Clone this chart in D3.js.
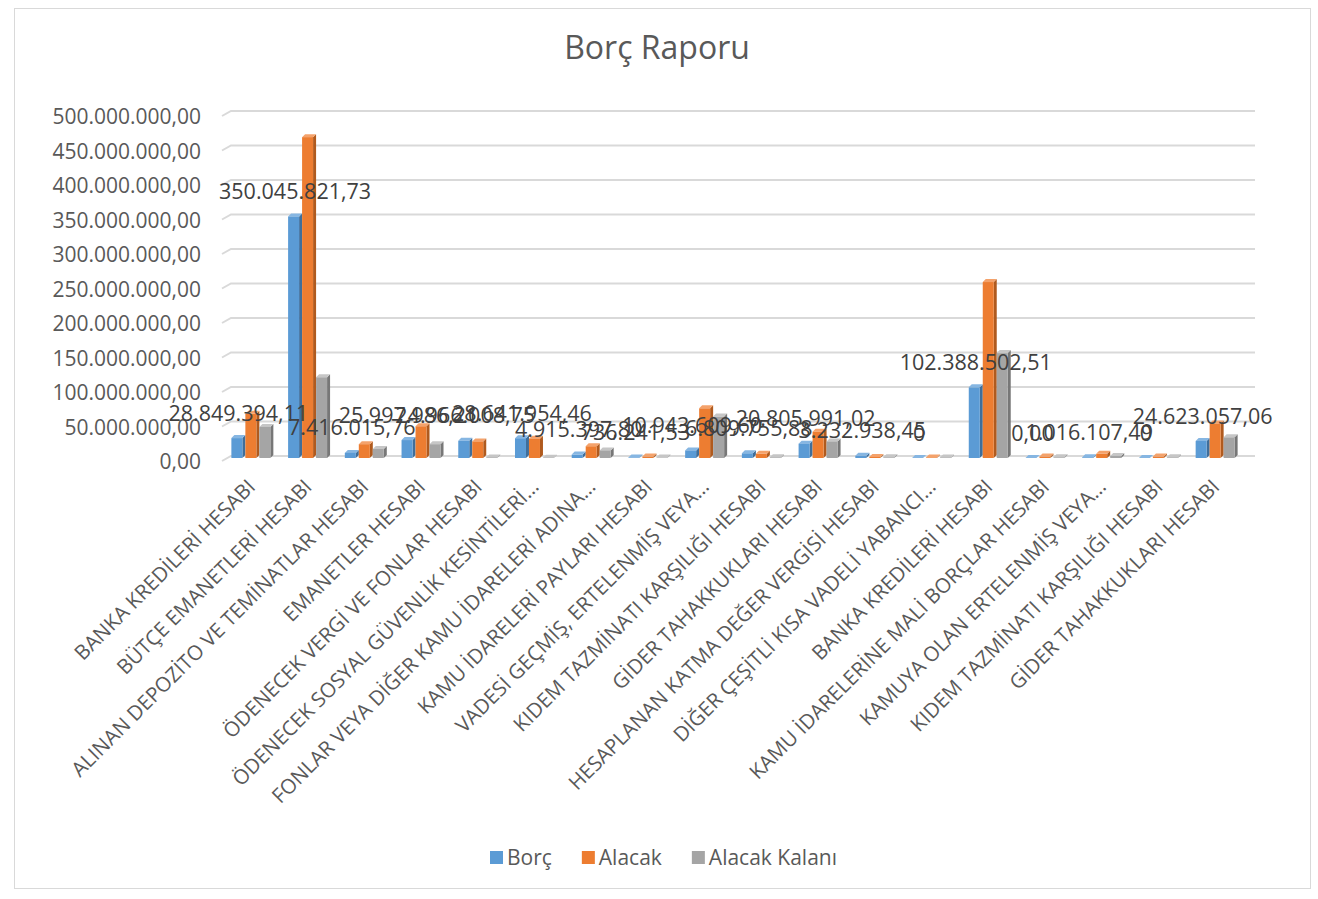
<!DOCTYPE html>
<html>
<head>
<meta charset="utf-8">
<script src="https://cdn.jsdelivr.net/npm/d3@7"></script>
<style>
  body { margin: 0; background: #fff; }
  svg { font-family: "Open Sans", "DejaVu Sans", sans-serif; }
  .tick text, .catLabel, .dataLabel, .legendText { fill: #595959; }
</style>
</head>
<body>
<svg id="chart" width="1318" height="899"></svg>
<script>
// categories (x axis)
var categories = [
	"BANKA KREDİLERİ HESABI",
	"BÜTÇE EMANETLERİ HESABI",
	"ALINAN DEPOZİTO VE TEMİNATLAR HESABI",
	"EMANETLER HESABI",
	"ÖDENECEK VERGİ VE FONLAR HESABI",
	"ÖDENECEK SOSYAL GÜVENLİK KESİNTİLERİ…",
	"FONLAR VEYA DİĞER KAMU İDARELERİ ADINA…",
	"KAMU İDARELERİ PAYLARI HESABI",
	"VADESİ GEÇMİŞ, ERTELENMİŞ VEYA…",
	"KIDEM TAZMİNATI KARŞILIĞI HESABI",
	"GİDER TAHAKKUKLARI HESABI",
	"HESAPLANAN KATMA DEĞER VERGİSİ HESABI",
	"DİĞER ÇEŞİTLİ KISA VADELİ YABANCI…",
	"BANKA KREDİLERİ HESABI",
	"KAMU İDARELERİNE MALİ BORÇLAR HESABI",
	"KAMUYA OLAN ERTELENMİŞ VEYA…",
	"KIDEM TAZMİNATI KARŞILIĞI HESABI",
	"GİDER TAHAKKUKLARI HESABI"
];

var seriesNames = ["Borç", "Alacak", "Alacak Kalanı"];

var borc = [28849394.11, 350045821.73, 7416015.76, 25997986.21, 24966008.75, 28641954.46,
	4915397.80, 736241.53, 10943609.60, 6809755.88, 20805991.02, 3232938.45,
	0, 102388502.51, 0, 1016107.49, 0, 24623057.06];

var alacak = [64000000, 465000000, 20000000, 46000000, 24000000, 28000000,
	17000000, 2000000, 72000000, 6000000, 38000000, 1500000,
	800000, 255000000, 2000000, 6000000, 2000000, 50000000];

var alacakKalani = [45000000, 117000000, 13000000, 20000000, 900000, 500000,
	11000000, 600000, 60000000, 1000000, 24000000, 1000000,
	800000, 152000000, 1000000, 3000000, 1000000, 30000000];

// data labels shown on the Borç series
var borcLabels = ["28.849.394,11", "350.045.821,73", "7.416.015,76", "25.997.986,21",
	"24.966.008,75", "28.641.954,46", "4.915.397,80", "736.241,53", "10.943.609,60",
	"6.809.755,88", "20.805.991,02", "3.232.938,45", "0", "102.388.502,51",
	"0,00", "1.016.107,49", "0", "24.623.057,06"];

var yTicks = [0, 50e6, 100e6, 150e6, 200e6, 250e6, 300e6, 350e6, 400e6, 450e6, 500e6];

var colors = {
	"Borç": {front: "#5B9BD5", side: "#3F6E9A", top: "#86B6E2"},
	"Alacak": {front: "#ED7D31", side: "#B05A1E", top: "#F4A26B"},
	"Alacak Kalanı": {front: "#A5A5A5", side: "#777777", top: "#C6C6C6"}
};

var svg = d3.select("#chart");

// chart frame
svg.append("rect")
	.attr("x", 14.5).attr("y", 8.5)
	.attr("width", 1296).attr("height", 880)
	.attr("fill", "#fff")
	.attr("stroke", "#D9D9D9");

// title
svg.append("text")
	.attr("x", 657).attr("y", 59)
	.attr("text-anchor", "middle")
	.style("font-size", "32px")
	.style("fill", "#595959")
	.text("Borç Raporu");

var locale = d3.formatLocale({decimal: ",", thousands: ".", grouping: [3], currency: ["", ""]});
var fmt = locale.format(",.2f");

var y = d3.scaleLinear().domain([0, 500e6]).range([458, 113]);

var x0 = d3.scaleBand()
	.domain(d3.range(categories.length))
	.range([224, 1245])
	.paddingInner(0.26)
	.paddingOuter(0.13);

var x1 = d3.scaleBand()
	.domain(seriesNames)
	.range([0, x0.bandwidth()]);

var depth = 3;
var faceW = x1.bandwidth() - depth;

// gridlines with small slant for the 3D wall
var grid = svg.append("g");
yTicks.forEach(function(t) {
	var yy = y(t) - 2;
	grid.append("path")
		.attr("d", "M222," + (yy + 5) + "L231," + yy + "H1255")
		.attr("fill", "none")
		.attr("stroke", "#D9D9D9")
		.attr("stroke-width", 2);
});

// y axis labels
var yAxis = svg.append("g")
	.attr("transform", "translate(201,4)")
	.call(d3.axisLeft(y).tickValues(yTicks).tickFormat(fmt).tickSize(0).tickPadding(0));
yAxis.select(".domain").remove();
yAxis.selectAll("text")
	.style("font-size", "21px")
	.style("font-family", "\"Open Sans\", sans-serif");

// bars
var rows = categories.map(function(c, i) {
	return [
		{s: "Borç", v: borc[i], i: i},
		{s: "Alacak", v: alacak[i], i: i},
		{s: "Alacak Kalanı", v: alacakKalani[i], i: i}
	];
});

var groups = svg.append("g").selectAll("g")
	.data(rows)
	.enter().append("g")
	.attr("transform", function(d, i) { return "translate(" + x0(i) + ",0)"; });

var bars = groups.selectAll("g")
	.data(function(d) { return d; })
	.enter().append("g");

// side face
bars.append("path")
	.attr("fill", function(d) { return colors[d.s].side; })
	.attr("d", function(d) {
		var xl = x1(d.s) + faceW, top = y(d.v), bot = y(0);
		return "M" + xl + "," + top + "L" + (xl + depth) + "," + (top - depth) +
			"L" + (xl + depth) + "," + (bot - depth) + "L" + xl + "," + bot + "Z";
	});
// top face
bars.append("path")
	.attr("fill", function(d) { return colors[d.s].top; })
	.attr("d", function(d) {
		var xl = x1(d.s), top = y(d.v);
		return "M" + xl + "," + top + "L" + (xl + depth) + "," + (top - depth) +
			"L" + (xl + faceW + depth) + "," + (top - depth) + "L" + (xl + faceW) + "," + top + "Z";
	});
// front face
bars.append("rect")
	.attr("x", function(d) { return x1(d.s); })
	.attr("y", function(d) { return y(d.v); })
	.attr("width", faceW)
	.attr("height", function(d) { return y(0) - y(d.v); })
	.attr("fill", function(d) { return colors[d.s].front; });

// data labels for Borç
svg.append("g").selectAll("text")
	.data(borc)
	.enter().append("text")
	.attr("class", "dataLabel")
	.attr("x", function(d, i) { return x0(i) + x1("Borç") + x1.bandwidth() / 2; })
	.attr("y", function(d) { return y(d) - 25; })
	.attr("dy", "0.35em")
	.attr("text-anchor", "middle")
	.style("font-size", "21.5px")
	.style("fill", "#404040")
	.text(function(d, i) { return borcLabels[i]; });

// category labels, rotated
svg.append("g").selectAll("text")
	.data(categories)
	.enter().append("text")
	.attr("class", "catLabel")
	.attr("transform", function(d, i) {
		return "translate(" + (x0(i) + x0.bandwidth() / 2 - 1) + ",483) rotate(-45)";
	})
	.attr("dy", "0.35em")
	.attr("text-anchor", "end")
	.style("font-size", "20.5px")
	.text(function(d) { return d; });

// legend
var legend = svg.append("g");
var lx = 490;
seriesNames.forEach(function(s) {
	legend.append("rect")
		.attr("x", lx).attr("y", 851)
		.attr("width", 13).attr("height", 13)
		.attr("fill", colors[s].front);
	var t = legend.append("text")
		.attr("class", "legendText")
		.attr("x", lx + 17).attr("y", 858)
		.attr("dy", "0.35em")
		.style("font-size", "21px")
		.text(s);
	lx += 17 + t.node().getComputedTextLength() + 30;
});
</script>
</body>
</html>
